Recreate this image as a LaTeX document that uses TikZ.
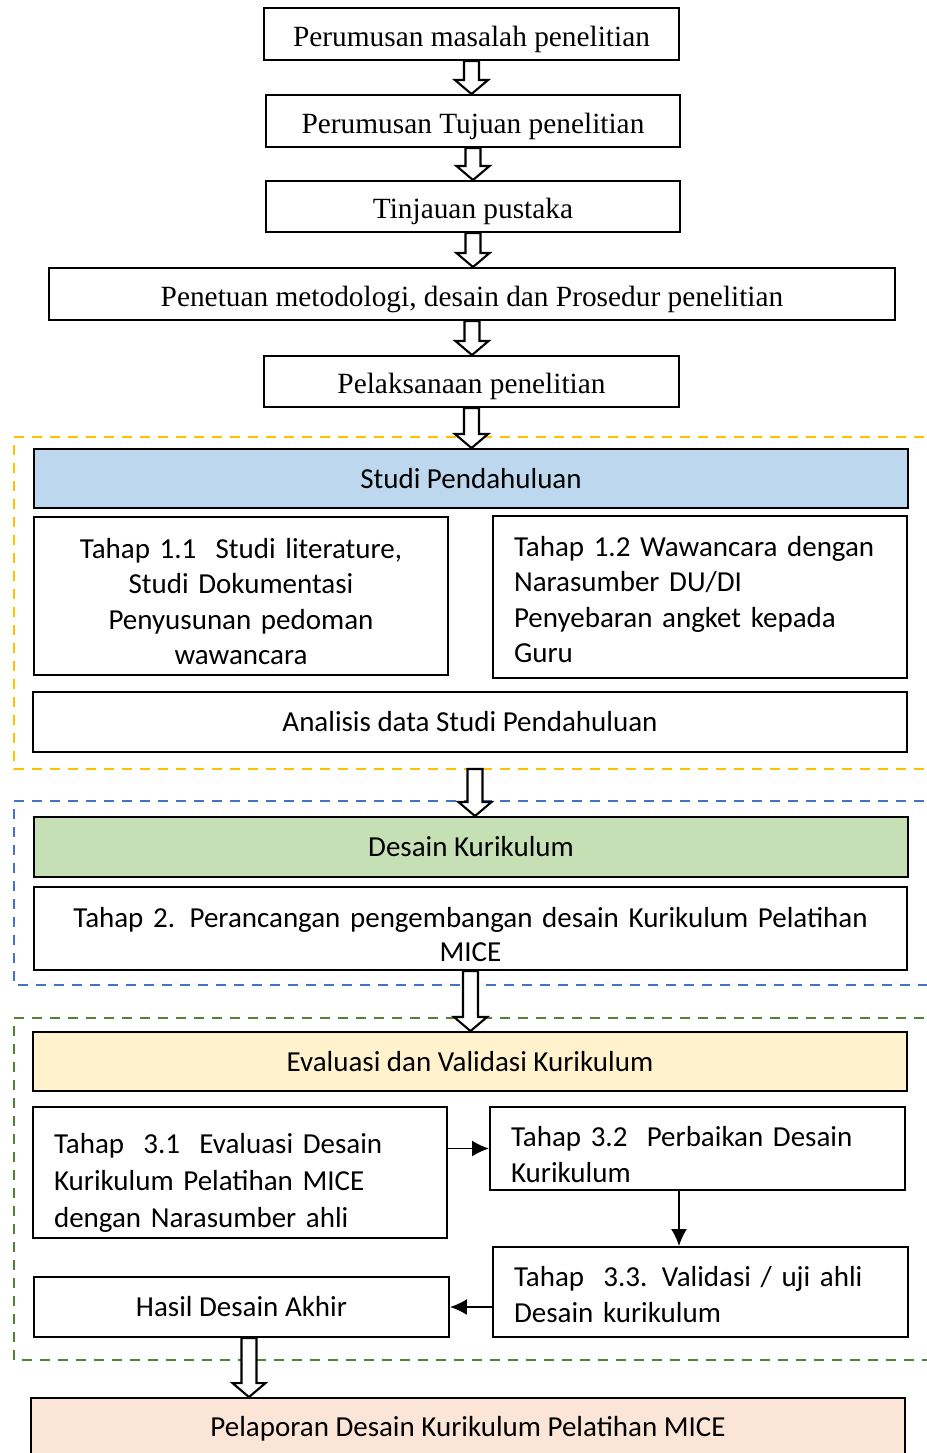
\documentclass[tikz,border=0pt]{standalone}
\usepackage{fontspec}
\setmainfont{Liberation Serif}
\newfontfamily\calibri{Carlito}
\usetikzlibrary{calc,arrows.meta}

\definecolor{studiblue}{HTML}{BDD7EE}
\definecolor{desaingreen}{HTML}{C5E0B4}
\definecolor{evalyellow}{HTML}{FFF2CC}
\definecolor{laporpeach}{HTML}{FBE5D6}
\definecolor{dashyellow}{HTML}{FFC000}
\definecolor{dashblue}{HTML}{4472C4}
\definecolor{dashgreen}{HTML}{548235}

\tikzset{
    serifbox/.style={draw, line width=1.1pt, font=\fontsize{16.7}{20}\selectfont, text height=14pt, text depth=0pt},
    sansbox/.style={draw, line width=1.1pt, font=\calibri\fontsize{16.5}{20.5}\selectfont},
    leftbox/.style={sansbox, align=left, inner xsep=0.42cm},
    dashframe/.style={line width=1.2pt, dash pattern=on 0.2cm off 0.16cm},
    hollowarr/.style={draw, fill=white, line width=1.2pt, line join=miter},
    steparr/.style={-{Latex[length=0.34cm, width=0.32cm]}, line width=1.1pt},
}

% hollow block arrow from #1 down to #2
\newcommand{\hollowarrow}[2]{%
    \draw[hollowarr] let \p1=#1, \p2=#2 in
        (\x1-0.15cm,\y1) -- (\x1-0.15cm,\y2+0.28cm) -- (\x1-0.33cm,\y2+0.28cm)
        -- (\x1,\y2) -- (\x1+0.33cm,\y2+0.28cm) -- (\x1+0.15cm,\y2+0.28cm)
        -- (\x1+0.15cm,\y1) -- cycle;}

\begin{document}
\begin{tikzpicture}[x=0.02cm, y=-0.02cm]
    \useasboundingbox (0, 0) rectangle (926, 1453);

    % dashed frames
    \draw[dashframe, dashyellow] (960, 437) -- (14, 437) -- (14, 769) -- (960, 769);
    \draw[dashframe, dashblue] (960, 801) -- (14, 801) -- (14, 985) -- (960, 985);
    \draw[dashframe, dashgreen] (960, 1018) -- (14, 1018) -- (14, 1360) -- (960, 1360);

    % top steps
    \node[serifbox, minimum width=8.30cm, minimum height=1.04cm] (masalah) at (471.5, 34) {Perumusan masalah penelitian};
    \node[serifbox, minimum width=8.28cm, minimum height=1.04cm] (tujuan) at (473, 121) {Perumusan Tujuan penelitian};
    \node[serifbox, minimum width=8.28cm, minimum height=1.02cm] (tinjauan) at (473, 206.5) {Tinjauan pustaka};
    \node[serifbox, minimum width=16.92cm, minimum height=1.04cm] (metode) at (472, 294) {Penetuan metodologi, desain dan Prosedur penelitian};
    \node[serifbox, minimum width=8.30cm, minimum height=1.02cm] (pelaksanaan) at (471.5, 381.5) {Pelaksanaan penelitian};

    % studi pendahuluan
    \node[sansbox, fill=studiblue, minimum width=17.48cm, minimum height=1.18cm] (studi) at (471, 478.5) {Studi Pendahuluan};
    \node[sansbox, align=center, text width=7.6cm, minimum width=8.28cm, minimum height=3.16cm, font=\calibri\fontsize{16.5}{20.2}\selectfont, text height=17.6pt] (tahap11) at (241, 596) {Tahap 1.1~ Studi literature,\\ Studi Dokumentasi\\ Penyusunan pedoman\\ wawancara};
    \node[leftbox, text width=7.44cm, minimum height=3.24cm, font=\calibri\fontsize{16.5}{20.2}\selectfont, text height=14.2pt] (tahap12) at (700, 597) {Tahap 1.2 Wawancara dengan\\ Narasumber DU/DI\\ Penyebaran angket kepada\\ Guru};
    \node[sansbox, minimum width=17.48cm, minimum height=1.2cm] (analisis) at (470, 722) {Analisis data Studi Pendahuluan};
    \coordinate (yellowend) at (475, 769);

    % desain kurikulum
    \node[sansbox, fill=desaingreen, minimum width=17.48cm, minimum height=1.2cm] (desain) at (471, 847) {Desain Kurikulum};
    \node[sansbox, align=center, text width=17cm, minimum width=17.46cm, minimum height=1.66cm, font=\calibri\fontsize{16.5}{19.8}\selectfont, text height=18.2pt] (tahap2) at (470.5, 928.5) {Tahap 2. Perancangan pengembangan desain Kurikulum Pelatihan\\ MICE};

    % evaluasi dan validasi
    \node[sansbox, fill=evalyellow, minimum width=17.48cm, minimum height=1.18cm] (evaluasi) at (470, 1061.5) {Evaluasi dan Validasi Kurikulum};
    \node[leftbox, text width=7.44cm, minimum height=2.62cm, font=\calibri\fontsize{16.5}{21}\selectfont, text height=23.2pt] (tahap31) at (240, 1172.5) {Tahap~ 3.1~ Evaluasi Desain\\ Kurikulum Pelatihan MICE\\ dengan Narasumber ahli};
    \node[leftbox, text width=7.46cm, minimum height=1.66cm, text height=18.8pt] (tahap32) at (697.5, 1148.5) {Tahap 3.2~ Perbaikan Desain\\ Kurikulum};
    \node[leftbox, text width=7.46cm, minimum height=1.80cm, text height=14.2pt] (tahap33) at (700.5, 1292) {Tahap~ 3.3. Validasi / uji ahli\\ Desain kurikulum};
    \node[sansbox, minimum width=8.30cm, minimum height=1.2cm] (hasil) at (241.5, 1307) {Hasil Desain Akhir};

    % pelaporan
    \node[sansbox, fill=laporpeach, minimum width=17.48cm, minimum height=1.6cm] (pelaporan) at (468, 1438) {};
    \node[font=\calibri\fontsize{16.5}{20}\selectfont] (pelaporantxt) at (468, 1429) {Pelaporan Desain Kurikulum Pelatihan MICE};

    % block arrows
    \hollowarrow{(masalah.south)}{(tujuan.north)}
    \hollowarrow{(tujuan.south)}{(tinjauan.north)}
    \hollowarrow{(tinjauan.south)}{(metode.north)}
    \hollowarrow{(metode.south)}{(pelaksanaan.north)}
    \hollowarrow{(pelaksanaan.south)}{(studi.north)}
    \hollowarrow{(yellowend)}{(desain.north)}
    \hollowarrow{(tahap2.south)}{(evaluasi.north)}
    \hollowarrow{([xshift=0.15cm]hasil.south)}{(pelaporan.north)}

    % step arrows
    \draw[steparr] (tahap31.east |- tahap32.west) -- (tahap32.west);
    \draw[steparr] ([xshift=-0.37cm]tahap32.south) -- ([xshift=-0.37cm]tahap32.south |- tahap33.north);
    \draw[steparr] (tahap33.west |- hasil.east) -- (hasil.east);
\end{tikzpicture}
\end{document}
